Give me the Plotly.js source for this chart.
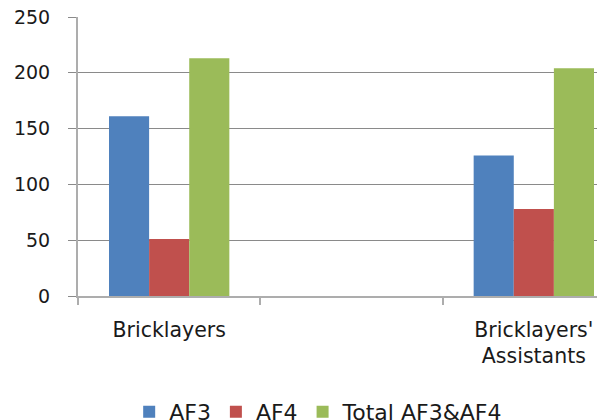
<!DOCTYPE html>
<html>
<head>
<meta charset="utf-8">
<script src="https://cdn.plot.ly/plotly-3.0.1.min.js"></script>
<style>
  html, body { margin: 0; padding: 0; background: #fff; overflow: hidden; }
  #chart { width: 630px; height: 440px; }
</style>
</head>
<body>
<div id="chart"></div>
<script>
// Trades (the middle slot is an empty row in the source table)
const categories = ["Bricklayers", " ", "Bricklayers' Assistants"];
// Category labels, the long one wrapped onto two lines
const tickLabels = ["Bricklayers", "", "Bricklayers'<br>Assistants"];

const seriesNames = ["AF3", "AF4", "Total AF3&AF4"];
const af3 = [161, null, 126];
const af4 = [51, null, 78];
const totalAf3Af4 = [213, null, 204];

const yTicks = [0, 50, 100, 150, 200, 250];

const colors = ["#4F81BD", "#C0504D", "#9BBB59"];
const gridGray = "#8a8a8a";
const lineGray = "#adadad";
const textColor = "#1a1a1a";
const fontFamily = "DejaVu Sans, Verdana, sans-serif";

const seriesValues = [af3, af4, totalAf3Af4];
const traces = seriesValues.map((vals, i) => ({
  type: "bar",
  name: seriesNames[i],
  x: categories,
  y: vals,
  marker: { color: colors[i], line: { width: 0 } },
  hoverinfo: "x+y+name"
}));

const layout = {
  width: 630,
  height: 440,
  margin: { l: 78, r: 5, t: 17, b: 144, pad: 0 },
  paper_bgcolor: "#ffffff",
  plot_bgcolor: "#ffffff",
  barmode: "group",
  bargap: 0.34,
  bargroupgap: 0,
  font: { family: fontFamily, color: textColor },
  xaxis: {
    type: "category",
    categoryorder: "array",
    categoryarray: categories,
    tickvals: categories,
    ticktext: tickLabels,
    range: [-0.5, 2.5],
    tickson: "boundaries",
    ticks: "outside",
    ticklen: 7,
    tickcolor: lineGray,
    tickwidth: 2,
    showline: true,
    linecolor: lineGray,
    linewidth: 2,
    showgrid: false,
    zeroline: false,
    ticklabelstandoff: 14,
    tickfont: { family: fontFamily, size: 20.5, color: textColor }
  },
  yaxis: {
    range: [0, 250],
    tickvals: yTicks,
    ticks: "outside",
    ticklen: 8,
    tickcolor: gridGray,
    tickwidth: 1,
    showline: true,
    linecolor: lineGray,
    linewidth: 2,
    showgrid: true,
    gridcolor: gridGray,
    gridwidth: 1,
    zeroline: false,
    ticklabelstandoff: 14,
    tickfont: { family: fontFamily, size: 19, color: textColor }
  },
  showlegend: true,
  legend: {
    orientation: "h",
    x: 0.44,
    xanchor: "center",
    y: -0.416,
    yanchor: "middle",
    font: { family: fontFamily, size: 22, color: textColor },
    bgcolor: "rgba(0,0,0,0)",
    itemclick: false,
    itemdoubleclick: false
  }
};

Plotly.newPlot("chart", traces, layout, { displayModeBar: false, staticPlot: true });
</script>
</body>
</html>
